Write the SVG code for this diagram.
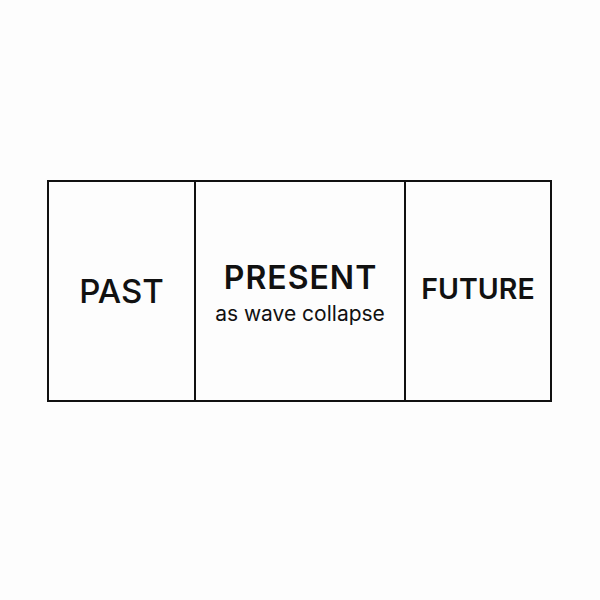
<svg xmlns="http://www.w3.org/2000/svg" width="600" height="600" viewBox="0 0 600 600">
<style>
.box{fill:none;stroke:#111;stroke-width:2}
.t{font-family:Inter,"Liberation Sans",sans-serif;fill:#111;text-anchor:middle}
</style>
<rect width="600" height="600" fill="#fdfdfd"/>
<g id="past">
<rect class="box" x="48" y="181" width="147" height="220"/>
<text class="t" x="121.5" y="302.5" font-size="33" font-weight="500">PAST</text>
</g>
<g id="present">
<rect class="box" x="195" y="181" width="210" height="220"/>
<text class="t" x="300.5" y="288.5" font-size="32" font-weight="600" letter-spacing="1">PRESENT</text>
<text class="t" x="300" y="320.5" font-size="21">as wave collapse</text>
</g>
<g id="future">
<rect class="box" x="405" y="181" width="146" height="220"/>
<text class="t" x="478" y="298.5" font-size="28.5" font-weight="600">FUTURE</text>
</g>
<g id="connectors"></g>
</svg>
